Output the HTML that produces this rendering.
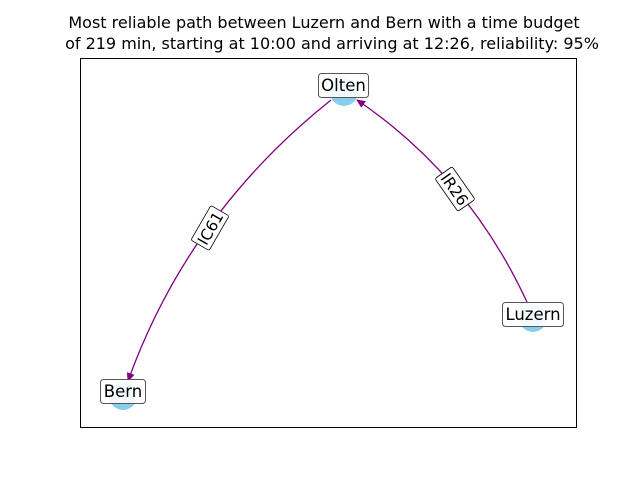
<!DOCTYPE html>
<html><head><style>
body{margin:0;background:#fff;}
svg{display:block;font-family:"DejaVu Sans","Liberation Sans",sans-serif;}
</style></head><body>
<svg width="640" height="480" viewBox="0 0 640 480">
<text x="324" y="28" font-size="16" text-anchor="middle">Most reliable path between Luzern and Bern with a time budget</text>
<text x="332" y="49" font-size="16" text-anchor="middle">of 219 min, starting at 10:00 and arriving at 12:26, reliability: 95%</text>
<rect x="80.5" y="58.5" width="496" height="369" fill="none" stroke="#000" stroke-width="1"/>
<defs><marker id="a" markerWidth="10" markerHeight="10" refX="8" refY="4" orient="auto" markerUnits="userSpaceOnUse"><path d="M0,0 L9,4 L0,8 z" fill="#800080"/></marker></defs>
<circle cx="344" cy="92" r="14" fill="#87ceeb"/>
<circle cx="533" cy="318" r="14" fill="#87ceeb"/>
<circle cx="123" cy="396" r="14" fill="#87ceeb"/>
<path d="M331,100 Q188,214 128,381" fill="none" stroke="#800080" stroke-width="1.3" marker-end="url(#a)"/>
<path d="M527,302 Q468,175 357,100" fill="none" stroke="#800080" stroke-width="1.3" marker-end="url(#a)"/>
<g transform="translate(210,228) rotate(-60)"><rect x="-20" y="-10.5" width="40" height="21" fill="#fff" stroke="#000" stroke-width="0.8" rx="2"/><text y="6" font-size="15.5" text-anchor="middle">IC61</text></g>
<g transform="translate(455,189) rotate(55)"><rect x="-20" y="-10.5" width="40" height="21" fill="#fff" stroke="#000" stroke-width="0.8" rx="2"/><text y="6" font-size="15.5" text-anchor="middle">IR26</text></g>
<rect x="318.5" y="73.5" width="50" height="24" fill="#fff" fill-opacity="0.9" stroke="#555" rx="3"/>
<text x="343.5" y="91" font-size="16.5" text-anchor="middle">Olten</text>
<rect x="502.5" y="302.5" width="61" height="24" fill="#fff" fill-opacity="0.9" stroke="#555" rx="3"/>
<text x="533" y="320" font-size="16.5" text-anchor="middle">Luzern</text>
<rect x="100.5" y="379.5" width="45" height="24" fill="#fff" fill-opacity="0.9" stroke="#555" rx="3"/>
<text x="123" y="397" font-size="16.5" text-anchor="middle">Bern</text>
</svg>
</body></html>
